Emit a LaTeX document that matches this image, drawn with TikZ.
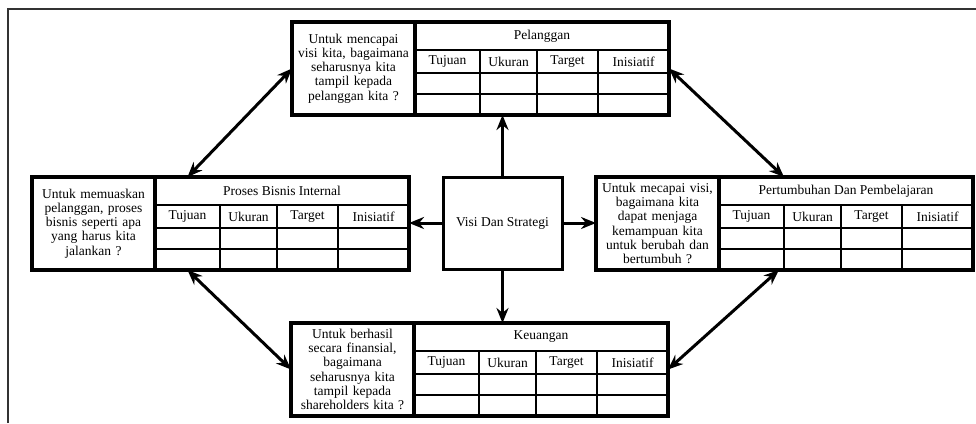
\documentclass[tikz,border=0pt]{standalone}
\usepackage{fontspec}
\setmainfont{Liberation Serif}
\usetikzlibrary{arrows.meta,calc}

\tikzset{
  txt/.style={font=\fontsize{13.5}{14.2}\selectfont},
  cell/.style={draw, line width=2.6pt, inner sep=0pt, outer sep=0pt,
               rectangle, anchor=north west, txt},
  qbox/.style={cell, line width=3.2pt, minimum width=123pt, minimum height=93pt,
               text width=118pt, align=center},
  blockframe/.style={draw, line width=3.2pt, inner sep=0pt, outer sep=0pt,
               rectangle, anchor=north west, minimum width=377pt, minimum height=93pt},
  vsbox/.style={draw, line width=3pt, inner sep=0pt, outer sep=0pt,
               minimum width=119pt, minimum height=92pt, txt},
  arr/.style={line width=3pt, -{Stealth[length=15pt,width=12pt]}},
  darr/.style={line width=3pt, {Stealth[length=15pt,width=12pt]}-{Stealth[length=15pt,width=12pt]}},
  pageframe/.style={line width=1.2pt, draw=black!80}
}

% One perspective block: question box, title row, column heads and two empty rows
\newcommand\bscblock[5]{%
  \node[qbox] (#1-q) at (#2,#3) {#5};
  \node[cell, minimum width=254pt, minimum height=28pt] (#1-t) at (#1-q.north east) {#4};
  \node[cell, minimum width=65pt, minimum height=23pt] (#1-h1) at (#1-t.south west) {Tujuan};
  \node[cell, minimum width=57pt, minimum height=23pt] (#1-h2) at (#1-h1.north east) {Ukuran};
  \node[cell, minimum width=61pt, minimum height=23pt] (#1-h3) at (#1-h2.north east) {Target};
  \node[cell, minimum width=71pt, minimum height=23pt] (#1-h4) at (#1-h3.north east) {Inisiatif};
  \node[cell, minimum width=65pt, minimum height=21pt] (#1-a1) at (#1-h1.south west) {};
  \node[cell, minimum width=57pt, minimum height=21pt] (#1-a2) at (#1-h2.south west) {};
  \node[cell, minimum width=61pt, minimum height=21pt] (#1-a3) at (#1-h3.south west) {};
  \node[cell, minimum width=71pt, minimum height=21pt] (#1-a4) at (#1-h4.south west) {};
  \node[cell, minimum width=65pt, minimum height=21pt] (#1-b1) at (#1-a1.south west) {};
  \node[cell, minimum width=57pt, minimum height=21pt] (#1-b2) at (#1-a2.south west) {};
  \node[cell, minimum width=61pt, minimum height=21pt] (#1-b3) at (#1-a3.south west) {};
  \node[cell, minimum width=71pt, minimum height=21pt] (#1-b4) at (#1-a4.south west) {};
  \node[blockframe] (#1) at (#2,#3) {};
}

\begin{document}
\begin{tikzpicture}[x=1pt, y=-1pt]
  \useasboundingbox (0,0) rectangle (976,423);
  \draw[pageframe] (8,423) -- (8,9) -- (976,9);

  \bscblock{pel}{292}{22}{Pelanggan}
    {Untuk mencapai\\visi kita, bagaimana\\seharusnya kita\\tampil kepada\\pelanggan kita ?}
  \bscblock{pbi}{32}{177}{Proses Bisnis Internal}
    {Untuk memuaskan\\pelanggan, proses\\bisnis seperti apa\\yang harus kita\\jalankan ?}
  \bscblock{pdp}{596}{177}{Pertumbuhan Dan Pembelajaran}
    {Untuk mecapai visi,\\bagaimana kita\\dapat menjaga\\kemampuan kita\\untuk berubah dan\\bertumbuh ?}
  \bscblock{keu}{291}{323}{Keuangan}
    {Untuk berhasil\\secara finansial,\\bagaimana\\seharusnya kita\\tampil kepada\\shareholders kita ?}

  \node[vsbox] (vs) at (502.5,223) {Visi Dan Strategi};

  % vision to the four perspectives
  \draw[arr] (vs.north) -- (vs.north |- pel.south);
  \draw[arr] (vs.south) -- (vs.south |- keu.north);
  \draw[arr] (vs.west) -- (vs.west -| pbi.east);
  \draw[arr] (vs.east) -- (vs.east -| pdp.west);

  % links between the perspectives
  \draw[darr] (pel.west) -- (pbi-h1.center |- pbi.north);
  \draw[darr] (pel.east) -- (pdp-h1.east |- pdp.north);
  \draw[darr] (pbi-h1.center |- pbi.south) -- (keu.west);
  \draw[darr] (keu.east) -- ($(pdp.south west)!0.485!(pdp.south east)$);
\end{tikzpicture}
\end{document}
